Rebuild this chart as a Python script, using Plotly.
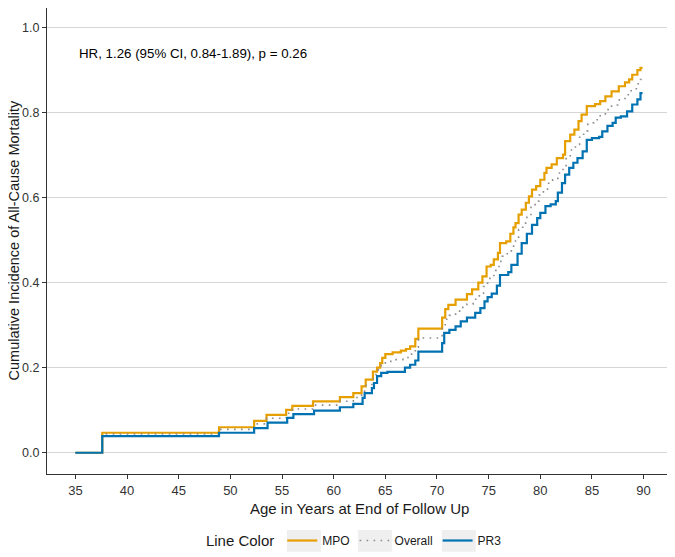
import plotly.graph_objects as go

# step points (age, cumulative incidence)
mpo_age = [35, 37.6, 48.9, 52.3, 53.5, 55.4, 56.0, 58.0, 60.6, 61.9, 62.7, 63.1, 63.8, 64.2, 64.5,
           64.7, 65.0, 65.7, 66.5, 67.0, 67.4, 67.9, 68.2, 70.5, 70.8, 71.1, 71.8, 72.9, 73.4, 74.0,
           74.4, 74.8, 75.2, 75.5, 75.9, 76.1, 76.7, 77.1, 77.4, 77.6, 77.9, 78.2, 78.6, 78.9, 79.2,
           79.6, 80.0, 80.4, 80.6, 81.1, 81.6, 82.2, 82.4, 82.9, 83.3, 83.7, 84.0, 84.5, 85.3, 85.8,
           86.3, 86.9, 87.6, 88.2, 88.6, 88.9, 89.4, 89.7, 89.9]
mpo_inc = [0, 0.047, 0.060, 0.075, 0.089, 0.101, 0.110, 0.121, 0.131, 0.140, 0.156, 0.172, 0.191, 0.200, 0.211,
           0.223, 0.232, 0.236, 0.240, 0.244, 0.250, 0.268, 0.292, 0.318, 0.338, 0.348, 0.360, 0.373, 0.384, 0.400,
           0.415, 0.438, 0.442, 0.455, 0.470, 0.493, 0.497, 0.515, 0.530, 0.540, 0.560, 0.572, 0.588, 0.603, 0.619,
           0.627, 0.642, 0.658, 0.670, 0.678, 0.693, 0.701, 0.733, 0.748, 0.760, 0.780, 0.795, 0.815, 0.820, 0.827,
           0.838, 0.850, 0.862, 0.871, 0.878, 0.889, 0.900, 0.905, 0.905]

pr3_age = [35, 37.6, 48.9, 52.3, 53.6, 55.5, 56.1, 58.1, 60.6, 61.9, 62.8, 63.0, 63.7, 63.9, 64.2,
           64.6, 65.2, 66.9, 67.4, 67.9, 68.2, 70.5, 70.7, 71.2, 71.8, 72.3, 72.9, 73.7, 74.2, 74.6,
           74.9, 75.3, 75.8, 76.1, 76.9, 77.2, 77.8, 78.2, 78.7, 79.2, 79.7, 80.0, 80.5, 81.0, 81.5,
           81.7, 82.1, 82.4, 82.8, 83.2, 83.6, 84.1, 84.5, 85.0, 85.7, 86.0, 86.5, 87.0, 87.3, 87.8,
           88.4, 88.9, 89.4, 89.7, 89.9]
pr3_inc = [0, 0.039, 0.047, 0.058, 0.071, 0.082, 0.091, 0.099, 0.107, 0.115, 0.129, 0.140, 0.152, 0.164, 0.180,
           0.188, 0.190, 0.200, 0.207, 0.217, 0.238, 0.258, 0.282, 0.289, 0.297, 0.309, 0.318, 0.329, 0.340, 0.356,
           0.366, 0.374, 0.393, 0.418, 0.425, 0.442, 0.468, 0.493, 0.515, 0.536, 0.552, 0.564, 0.580, 0.584, 0.592,
           0.612, 0.634, 0.654, 0.670, 0.682, 0.693, 0.709, 0.736, 0.740, 0.743, 0.756, 0.769, 0.776, 0.788, 0.791,
           0.803, 0.819, 0.831, 0.846, 0.846]

all_age = [35, 37.6, 48.9, 52.3, 53.5, 55.4, 56.0, 58.0, 60.6, 61.9, 62.7, 63.0, 63.7, 64.0, 64.3,
           64.6, 65.0, 65.7, 66.7, 67.3, 67.9, 68.2, 70.5, 70.8, 71.2, 71.8, 72.3, 72.9, 73.5, 74.1,
           74.5, 74.9, 75.3, 75.7, 76.0, 76.3, 76.8, 77.2, 77.6, 77.9, 78.3, 78.7, 79.1, 79.5, 79.9,
           80.3, 80.7, 81.2, 81.7, 82.2, 82.5, 82.9, 83.4, 83.8, 84.2, 84.6, 85.2, 85.8, 86.3, 86.9,
           87.5, 88.2, 88.8, 89.3, 89.7, 89.9]
all_inc = [0, 0.044, 0.055, 0.068, 0.081, 0.093, 0.103, 0.112, 0.121, 0.130, 0.145, 0.158, 0.174, 0.184, 0.195,
           0.206, 0.215, 0.219, 0.224, 0.232, 0.248, 0.270, 0.292, 0.314, 0.323, 0.333, 0.342, 0.350, 0.361, 0.375,
           0.391, 0.410, 0.417, 0.433, 0.450, 0.462, 0.468, 0.486, 0.505, 0.525, 0.540, 0.558, 0.577, 0.592, 0.606,
           0.620, 0.634, 0.642, 0.658, 0.672, 0.696, 0.712, 0.725, 0.742, 0.757, 0.776, 0.783, 0.795, 0.807, 0.818,
           0.830, 0.842, 0.856, 0.868, 0.878, 0.878]

x_ticks = [35, 40, 45, 50, 55, 60, 65, 70, 75, 80, 85, 90]
y_ticks = [0.0, 0.2, 0.4, 0.6, 0.8, 1.0]
y_tick_text = ["0.0", "0.2", "0.4", "0.6", "0.8", "1.0"]
hr_text = "HR, 1.26 (95% CI, 0.84-1.89), p = 0.26"

FONT = "Liberation Sans, Arial, sans-serif"

fig = go.Figure()
fig.add_trace(go.Scatter(x=mpo_age, y=mpo_inc, name="MPO", mode="lines", line_shape="hv",
                         line=dict(color="#E69F00", width=2.2)))
fig.add_trace(go.Scatter(x=all_age, y=all_inc, name="Overall", mode="lines", line_shape="hv",
                         line=dict(color="#8c8c8c", width=1.6, dash="1.6px,5.4px")))
fig.add_trace(go.Scatter(x=pr3_age, y=pr3_inc, name="PR3", mode="lines", line_shape="hv",
                         line=dict(color="#0072B2", width=2.2)))

fig.add_annotation(x=35.13, y=0.94, xref="x", yref="y", text=hr_text, showarrow=False,
                   xanchor="left", yanchor="middle", font=dict(size=13.3, color="black", family=FONT))
# axis titles
fig.add_annotation(x=0.5, y=-0.073, xref="paper", yref="paper", text="Age in Years at End of Follow Up",
                   showarrow=False, xanchor="center", yanchor="middle",
                   font=dict(size=15, color="#1a1a1a", family=FONT))
fig.add_annotation(x=-0.0522, y=0.502, xref="paper", yref="paper", text="Cumulative Incidence of All-Cause Mortality",
                   showarrow=False, textangle=-90, xanchor="center", yanchor="middle",
                   font=dict(size=14.5, color="#1a1a1a", family=FONT))

fig.update_xaxes(range=[32.25, 92.75], tickvals=x_ticks, showgrid=False, zeroline=False, automargin=False,
                 showline=True, linecolor="#333333", linewidth=1.2, ticks="outside", ticklen=4,
                 tickcolor="#333333", tickfont=dict(size=13, color="#333333", family=FONT))
fig.update_yaxes(range=[-0.05, 1.046], tickvals=y_ticks, ticktext=y_tick_text, showgrid=True, automargin=False,
                 gridcolor="#d6d6d6", gridwidth=1.1, zeroline=False,
                 showline=True, linecolor="#333333", linewidth=1.2, ticks="outside", ticklen=4,
                 tickcolor="#333333", tickfont=dict(size=12.5, color="#333333", family=FONT))

# light grey key backgrounds behind the legend symbols
for cx in [0.411, 0.5246, 0.659]:
    fig.add_shape(type="rect", xref="paper", yref="paper", x0=cx - 0.0272, x1=cx + 0.0272,
                  y0=-0.1667, y1=-0.1202, fillcolor="#efefef", line=dict(width=0), layer="below")

fig.update_layout(
    width=675, height=557,
    margin=dict(l=38.6, r=11.4, t=0, b=91),
    plot_bgcolor="white", paper_bgcolor="white",
    font=dict(family=FONT),
    legend=dict(orientation="h", x=0.4934, xanchor="center", y=-0.1438, yanchor="middle",
                title=dict(text="Line Color", font=dict(size=15, color="#1a1a1a")),
                font=dict(size=12, color="#1a1a1a"), itemwidth=30, bgcolor="rgba(0,0,0,0)"),
)

fig.write_html("out.html", config={"displayModeBar": False})
